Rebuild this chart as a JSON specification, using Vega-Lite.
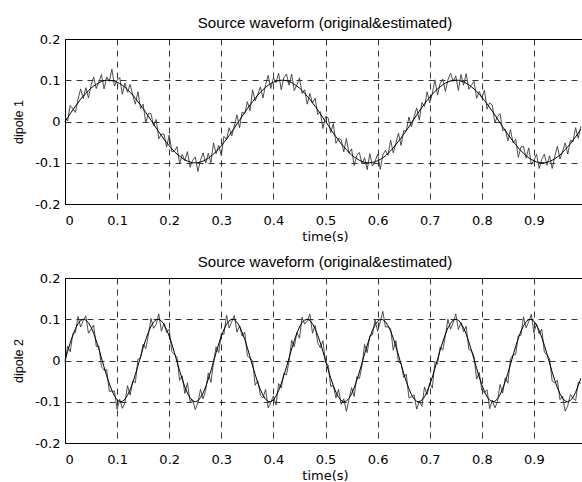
{
  "$schema": "https://vega.github.io/schema/vega-lite/v6.json",
  "padding": {"left": 12, "top": 15, "right": 0, "bottom": 0},
  "background": "white",
  "spacing": 74,
  "bounds": "flush",
  "data": {"values": [
    {"t":0,"s1":0,"e1":0.012,"s2":0,"e2":-0.007},
    {"t":0.005,"s1":0.009,"e1":0.001,"s2":0.022,"e2":0.035},
    {"t":0.01,"s1":0.019,"e1":0.039,"s2":0.043,"e2":0.021},
    {"t":0.015,"s1":0.028,"e1":0.031,"s2":0.061,"e2":0.065},
    {"t":0.02,"s1":0.037,"e1":0.022,"s2":0.077,"e2":0.068},
    {"t":0.025,"s1":0.045,"e1":0.054,"s2":0.089,"e2":0.107},
    {"t":0.03,"s1":0.054,"e1":0.079,"s2":0.097,"e2":0.081},
    {"t":0.035,"s1":0.061,"e1":0.056,"s2":0.1,"e2":0.097},
    {"t":0.04,"s1":0.068,"e1":0.082,"s2":0.098,"e2":0.108},
    {"t":0.045,"s1":0.075,"e1":0.057,"s2":0.092,"e2":0.066},
    {"t":0.05,"s1":0.081,"e1":0.087,"s2":0.081,"e2":0.076},
    {"t":0.055,"s1":0.086,"e1":0.108,"s2":0.066,"e2":0.086},
    {"t":0.06,"s1":0.09,"e1":0.08,"s2":0.048,"e2":0.034},
    {"t":0.065,"s1":0.094,"e1":0.096,"s2":0.028,"e2":0.035},
    {"t":0.07,"s1":0.097,"e1":0.114,"s2":0.006,"e2":-0.015},
    {"t":0.075,"s1":0.099,"e1":0.079,"s2":-0.016,"e2":-0.024},
    {"t":0.08,"s1":0.1,"e1":0.108,"s2":-0.037,"e2":-0.022},
    {"t":0.085,"s1":0.1,"e1":0.097,"s2":-0.056,"e2":-0.075},
    {"t":0.09,"s1":0.099,"e1":0.127,"s2":-0.073,"e2":-0.074},
    {"t":0.095,"s1":0.098,"e1":0.086,"s2":-0.086,"e2":-0.074},
    {"t":0.1,"s1":0.095,"e1":0.1,"s2":-0.095,"e2":-0.119},
    {"t":0.105,"s1":0.092,"e1":0.107,"s2":-0.1,"e2":-0.094},
    {"t":0.11,"s1":0.088,"e1":0.066,"s2":-0.099,"e2":-0.116},
    {"t":0.115,"s1":0.083,"e1":0.093,"s2":-0.094,"e2":-0.103},
    {"t":0.12,"s1":0.077,"e1":0.071,"s2":-0.084,"e2":-0.061},
    {"t":0.125,"s1":0.071,"e1":0.09,"s2":-0.071,"e2":-0.084},
    {"t":0.13,"s1":0.064,"e1":0.064,"s2":-0.054,"e2":-0.05},
    {"t":0.135,"s1":0.056,"e1":0.042,"s2":-0.034,"e2":-0.054},
    {"t":0.14,"s1":0.048,"e1":0.072,"s2":-0.013,"e2":0.003},
    {"t":0.145,"s1":0.04,"e1":0.031,"s2":0.009,"e2":0.006},
    {"t":0.15,"s1":0.031,"e1":0.042,"s2":0.031,"e2":0.04},
    {"t":0.155,"s1":0.022,"e1":-0.003,"s2":0.051,"e2":0.029},
    {"t":0.16,"s1":0.013,"e1":0.02,"s2":0.068,"e2":0.062},
    {"t":0.165,"s1":0.003,"e1":0.019,"s2":0.083,"e2":0.102},
    {"t":0.17,"s1":-0.006,"e1":-0.01,"s2":0.093,"e2":0.078},
    {"t":0.175,"s1":-0.016,"e1":0.005,"s2":0.099,"e2":0.088},
    {"t":0.18,"s1":-0.025,"e1":-0.042,"s2":0.1,"e2":0.113},
    {"t":0.185,"s1":-0.034,"e1":-0.031,"s2":0.096,"e2":0.071},
    {"t":0.19,"s1":-0.043,"e1":-0.03,"s2":0.088,"e2":0.09},
    {"t":0.195,"s1":-0.051,"e1":-0.062,"s2":0.075,"e2":0.068},
    {"t":0.2,"s1":-0.059,"e1":-0.033,"s2":0.059,"e2":0.076},
    {"t":0.205,"s1":-0.066,"e1":-0.073,"s2":0.04,"e2":0.022},
    {"t":0.21,"s1":-0.073,"e1":-0.072,"s2":0.019,"e2":0.015},
    {"t":0.215,"s1":-0.079,"e1":-0.061,"s2":-0.003,"e2":0.008},
    {"t":0.22,"s1":-0.084,"e1":-0.103,"s2":-0.025,"e2":-0.048},
    {"t":0.225,"s1":-0.089,"e1":-0.08,"s2":-0.045,"e2":-0.037},
    {"t":0.23,"s1":-0.093,"e1":-0.095,"s2":-0.064,"e2":-0.08},
    {"t":0.235,"s1":-0.096,"e1":-0.073,"s2":-0.079,"e2":-0.054},
    {"t":0.24,"s1":-0.098,"e1":-0.111,"s2":-0.09,"e2":-0.1},
    {"t":0.245,"s1":-0.1,"e1":-0.094,"s2":-0.098,"e2":-0.095},
    {"t":0.25,"s1":-0.1,"e1":-0.086,"s2":-0.1,"e2":-0.119},
    {"t":0.255,"s1":-0.1,"e1":-0.121,"s2":-0.098,"e2":-0.103},
    {"t":0.26,"s1":-0.098,"e1":-0.094,"s2":-0.09,"e2":-0.07},
    {"t":0.265,"s1":-0.096,"e1":-0.076,"s2":-0.079,"e2":-0.093},
    {"t":0.27,"s1":-0.093,"e1":-0.101,"s2":-0.064,"e2":-0.072},
    {"t":0.275,"s1":-0.089,"e1":-0.077,"s2":-0.045,"e2":-0.03},
    {"t":0.28,"s1":-0.084,"e1":-0.1,"s2":-0.025,"e2":-0.053},
    {"t":0.285,"s1":-0.079,"e1":-0.052,"s2":-0.003,"e2":-0.005},
    {"t":0.29,"s1":-0.073,"e1":-0.078,"s2":0.019,"e2":0.033},
    {"t":0.295,"s1":-0.066,"e1":-0.058,"s2":0.04,"e2":0.019},
    {"t":0.3,"s1":-0.059,"e1":-0.083,"s2":0.059,"e2":0.066},
    {"t":0.305,"s1":-0.051,"e1":-0.036,"s2":0.075,"e2":0.063},
    {"t":0.31,"s1":-0.043,"e1":-0.044,"s2":0.088,"e2":0.11},
    {"t":0.315,"s1":-0.034,"e1":-0.015,"s2":0.096,"e2":0.079},
    {"t":0.32,"s1":-0.025,"e1":-0.035,"s2":0.1,"e2":0.094},
    {"t":0.325,"s1":-0.016,"e1":-0.011,"s2":0.099,"e2":0.109},
    {"t":0.33,"s1":-0.006,"e1":0.016,"s2":0.093,"e2":0.069},
    {"t":0.335,"s1":0.003,"e1":-0.015,"s2":0.083,"e2":0.084},
    {"t":0.34,"s1":0.013,"e1":0.023,"s2":0.068,"e2":0.059},
    {"t":0.345,"s1":0.022,"e1":0.019,"s2":0.051,"e2":0.069},
    {"t":0.35,"s1":0.031,"e1":0.048,"s2":0.031,"e2":0.011},
    {"t":0.355,"s1":0.04,"e1":0.026,"s2":0.009,"e2":0.006},
    {"t":0.36,"s1":0.048,"e1":0.077,"s2":-0.013,"e2":-0.001},
    {"t":0.365,"s1":0.056,"e1":0.05,"s2":-0.034,"e2":-0.06},
    {"t":0.37,"s1":0.064,"e1":0.066,"s2":-0.054,"e2":-0.049},
    {"t":0.375,"s1":0.071,"e1":0.084,"s2":-0.071,"e2":-0.084},
    {"t":0.38,"s1":0.077,"e1":0.057,"s2":-0.084,"e2":-0.091},
    {"t":0.385,"s1":0.083,"e1":0.09,"s2":-0.094,"e2":-0.07},
    {"t":0.39,"s1":0.088,"e1":0.112,"s2":-0.099,"e2":-0.115},
    {"t":0.395,"s1":0.092,"e1":0.08,"s2":-0.1,"e2":-0.101},
    {"t":0.4,"s1":0.095,"e1":0.106,"s2":-0.095,"e2":-0.086},
    {"t":0.405,"s1":0.098,"e1":0.094,"s2":-0.086,"e2":-0.108},
    {"t":0.41,"s1":0.099,"e1":0.117,"s2":-0.073,"e2":-0.056},
    {"t":0.415,"s1":0.1,"e1":0.077,"s2":-0.056,"e2":-0.067},
    {"t":0.42,"s1":0.1,"e1":0.106,"s2":-0.037,"e2":-0.031},
    {"t":0.425,"s1":0.099,"e1":0.115,"s2":-0.016,"e2":-0.035},
    {"t":0.43,"s1":0.097,"e1":0.088,"s2":0.006,"e2":-0.002},
    {"t":0.435,"s1":0.094,"e1":0.115,"s2":0.028,"e2":0.049},
    {"t":0.44,"s1":0.09,"e1":0.075,"s2":0.048,"e2":0.033},
    {"t":0.445,"s1":0.086,"e1":0.089,"s2":0.066,"e2":0.068},
    {"t":0.45,"s1":0.081,"e1":0.106,"s2":0.081,"e2":0.054},
    {"t":0.455,"s1":0.075,"e1":0.068,"s2":0.092,"e2":0.105},
    {"t":0.46,"s1":0.068,"e1":0.077,"s2":0.098,"e2":0.088},
    {"t":0.465,"s1":0.061,"e1":0.042,"s2":0.1,"e2":0.096},
    {"t":0.47,"s1":0.054,"e1":0.068,"s2":0.097,"e2":0.113},
    {"t":0.475,"s1":0.045,"e1":0.045,"s2":0.089,"e2":0.066},
    {"t":0.48,"s1":0.037,"e1":0.057,"s2":0.077,"e2":0.085},
    {"t":0.485,"s1":0.028,"e1":0.017,"s2":0.061,"e2":0.043},
    {"t":0.49,"s1":0.019,"e1":0.024,"s2":0.043,"e2":0.031},
    {"t":0.495,"s1":0.009,"e1":-0.017,"s2":0.022,"e2":0.048},
    {"t":0.5,"s1":0,"e1":0.012,"s2":0,"e2":-0.005},
    {"t":0.505,"s1":-0.009,"e1":0.009,"s2":-0.022,"e2":-0.011},
    {"t":0.51,"s1":-0.019,"e1":-0.027,"s2":-0.043,"e2":-0.063},
    {"t":0.515,"s1":-0.028,"e1":-0.005,"s2":-0.061,"e2":-0.061},
    {"t":0.52,"s1":-0.037,"e1":-0.053,"s2":-0.077,"e2":-0.091},
    {"t":0.525,"s1":-0.045,"e1":-0.041,"s2":-0.089,"e2":-0.07},
    {"t":0.53,"s1":-0.054,"e1":-0.044,"s2":-0.097,"e2":-0.106},
    {"t":0.535,"s1":-0.061,"e1":-0.074,"s2":-0.1,"e2":-0.093},
    {"t":0.54,"s1":-0.068,"e1":-0.041,"s2":-0.098,"e2":-0.123},
    {"t":0.545,"s1":-0.075,"e1":-0.077,"s2":-0.092,"e2":-0.095},
    {"t":0.55,"s1":-0.081,"e1":-0.066,"s2":-0.081,"e2":-0.066},
    {"t":0.555,"s1":-0.086,"e1":-0.107,"s2":-0.066,"e2":-0.087},
    {"t":0.56,"s1":-0.09,"e1":-0.082,"s2":-0.048,"e2":-0.039},
    {"t":0.565,"s1":-0.094,"e1":-0.075,"s2":-0.028,"e2":-0.044},
    {"t":0.57,"s1":-0.097,"e1":-0.103,"s2":-0.006,"e2":-0.012},
    {"t":0.575,"s1":-0.099,"e1":-0.088,"s2":0.016,"e2":0.039},
    {"t":0.58,"s1":-0.1,"e1":-0.117,"s2":0.037,"e2":0.019},
    {"t":0.585,"s1":-0.1,"e1":-0.078,"s2":0.056,"e2":0.06},
    {"t":0.59,"s1":-0.099,"e1":-0.108,"s2":0.073,"e2":0.062},
    {"t":0.595,"s1":-0.098,"e1":-0.097,"s2":0.086,"e2":0.098},
    {"t":0.6,"s1":-0.095,"e1":-0.079,"s2":0.095,"e2":0.071},
    {"t":0.605,"s1":-0.092,"e1":-0.116,"s2":0.1,"e2":0.093},
    {"t":0.61,"s1":-0.088,"e1":-0.081,"s2":0.099,"e2":0.119},
    {"t":0.615,"s1":-0.083,"e1":-0.07,"s2":0.094,"e2":0.081},
    {"t":0.62,"s1":-0.077,"e1":-0.082,"s2":0.084,"e2":0.082},
    {"t":0.625,"s1":-0.071,"e1":-0.045,"s2":0.071,"e2":0.077},
    {"t":0.63,"s1":-0.064,"e1":-0.076,"s2":0.054,"e2":0.025},
    {"t":0.635,"s1":-0.056,"e1":-0.053,"s2":0.034,"e2":0.048},
    {"t":0.64,"s1":-0.048,"e1":-0.028,"s2":0.013,"e2":-0.004},
    {"t":0.645,"s1":-0.04,"e1":-0.058,"s2":-0.009,"e2":-0.006},
    {"t":0.65,"s1":-0.031,"e1":-0.022,"s2":-0.031,"e2":-0.041},
    {"t":0.655,"s1":-0.022,"e1":-0.023,"s2":-0.051,"e2":-0.033},
    {"t":0.66,"s1":-0.013,"e1":0.011,"s2":-0.068,"e2":-0.09},
    {"t":0.665,"s1":-0.003,"e1":-0.013,"s2":-0.083,"e2":-0.088},
    {"t":0.67,"s1":0.006,"e1":0.012,"s2":-0.093,"e2":-0.083},
    {"t":0.675,"s1":0.016,"e1":0.033,"s2":-0.099,"e2":-0.118},
    {"t":0.68,"s1":0.025,"e1":0.003,"s2":-0.1,"e2":-0.099},
    {"t":0.685,"s1":0.034,"e1":0.046,"s2":-0.096,"e2":-0.111},
    {"t":0.69,"s1":0.043,"e1":0.036,"s2":-0.088,"e2":-0.064},
    {"t":0.695,"s1":0.051,"e1":0.072,"s2":-0.075,"e2":-0.083},
    {"t":0.7,"s1":0.059,"e1":0.045,"s2":-0.059,"e2":-0.054},
    {"t":0.705,"s1":0.066,"e1":0.068,"s2":-0.04,"e2":-0.067},
    {"t":0.71,"s1":0.073,"e1":0.101,"s2":-0.019,"e2":-0.003},
    {"t":0.715,"s1":0.079,"e1":0.064,"s2":0.003,"e2":-0.009},
    {"t":0.72,"s1":0.084,"e1":0.092,"s2":0.025,"e2":0.033},
    {"t":0.725,"s1":0.089,"e1":0.103,"s2":0.045,"e2":0.025},
    {"t":0.73,"s1":0.093,"e1":0.073,"s2":0.064,"e2":0.06},
    {"t":0.735,"s1":0.096,"e1":0.101,"s2":0.079,"e2":0.1},
    {"t":0.74,"s1":0.098,"e1":0.117,"s2":0.09,"e2":0.076},
    {"t":0.745,"s1":0.1,"e1":0.097,"s2":0.098,"e2":0.092},
    {"t":0.75,"s1":0.1,"e1":0.11,"s2":0.1,"e2":0.113},
    {"t":0.755,"s1":0.1,"e1":0.075,"s2":0.098,"e2":0.075},
    {"t":0.76,"s1":0.098,"e1":0.114,"s2":0.09,"e2":0.092},
    {"t":0.765,"s1":0.096,"e1":0.088,"s2":0.079,"e2":0.07},
    {"t":0.77,"s1":0.093,"e1":0.116,"s2":0.064,"e2":0.083},
    {"t":0.775,"s1":0.089,"e1":0.078,"s2":0.045,"e2":0.027},
    {"t":0.78,"s1":0.084,"e1":0.088,"s2":0.025,"e2":0.024},
    {"t":0.785,"s1":0.079,"e1":0.097,"s2":0.003,"e2":0.01},
    {"t":0.79,"s1":0.073,"e1":0.056,"s2":-0.019,"e2":-0.045},
    {"t":0.795,"s1":0.066,"e1":0.073,"s2":-0.04,"e2":-0.029},
    {"t":0.8,"s1":0.059,"e1":0.057,"s2":-0.059,"e2":-0.072},
    {"t":0.805,"s1":0.051,"e1":0.076,"s2":-0.075,"e2":-0.078},
    {"t":0.81,"s1":0.043,"e1":0.03,"s2":-0.088,"e2":-0.071},
    {"t":0.815,"s1":0.034,"e1":0.045,"s2":-0.096,"e2":-0.117},
    {"t":0.82,"s1":0.025,"e1":0.04,"s2":-0.1,"e2":-0.096},
    {"t":0.825,"s1":0.016,"e1":-0.003,"s2":-0.099,"e2":-0.115},
    {"t":0.83,"s1":0.006,"e1":0.012,"s2":-0.093,"e2":-0.1},
    {"t":0.835,"s1":-0.003,"e1":0.019,"s2":-0.083,"e2":-0.058},
    {"t":0.84,"s1":-0.013,"e1":-0.022,"s2":-0.068,"e2":-0.079},
    {"t":0.845,"s1":-0.022,"e1":-0.019,"s2":-0.051,"e2":-0.042},
    {"t":0.85,"s1":-0.031,"e1":-0.047,"s2":-0.031,"e2":-0.055},
    {"t":0.855,"s1":-0.04,"e1":-0.02,"s2":-0.009,"e2":0.005},
    {"t":0.86,"s1":-0.048,"e1":-0.052,"s2":0.013,"e2":0.013},
    {"t":0.865,"s1":-0.056,"e1":-0.043,"s2":0.034,"e2":0.015},
    {"t":0.87,"s1":-0.064,"e1":-0.087,"s2":0.054,"e2":0.06},
    {"t":0.875,"s1":-0.071,"e1":-0.062,"s2":0.071,"e2":0.061},
    {"t":0.88,"s1":-0.077,"e1":-0.06,"s2":0.084,"e2":0.106},
    {"t":0.885,"s1":-0.083,"e1":-0.089,"s2":0.094,"e2":0.079},
    {"t":0.89,"s1":-0.088,"e1":-0.064,"s2":0.099,"e2":0.094},
    {"t":0.895,"s1":-0.092,"e1":-0.104,"s2":0.1,"e2":0.112},
    {"t":0.9,"s1":-0.095,"e1":-0.094,"s2":0.095,"e2":0.067},
    {"t":0.905,"s1":-0.098,"e1":-0.079,"s2":0.086,"e2":0.089},
    {"t":0.91,"s1":-0.099,"e1":-0.114,"s2":0.073,"e2":0.065},
    {"t":0.915,"s1":-0.1,"e1":-0.092,"s2":0.056,"e2":0.076},
    {"t":0.92,"s1":-0.1,"e1":-0.079,"s2":0.037,"e2":0.02},
    {"t":0.925,"s1":-0.099,"e1":-0.106,"s2":0.016,"e2":0.014},
    {"t":0.93,"s1":-0.097,"e1":-0.083,"s2":-0.006,"e2":0.004},
    {"t":0.935,"s1":-0.094,"e1":-0.114,"s2":-0.028,"e2":-0.05},
    {"t":0.94,"s1":-0.09,"e1":-0.085,"s2":-0.048,"e2":-0.054},
    {"t":0.945,"s1":-0.086,"e1":-0.06,"s2":-0.066,"e2":-0.048},
    {"t":0.95,"s1":-0.081,"e1":-0.091,"s2":-0.081,"e2":-0.095},
    {"t":0.955,"s1":-0.075,"e1":-0.072,"s2":-0.092,"e2":-0.087},
    {"t":0.96,"s1":-0.068,"e1":-0.052,"s2":-0.098,"e2":-0.123},
    {"t":0.965,"s1":-0.061,"e1":-0.079,"s2":-0.1,"e2":-0.109},
    {"t":0.97,"s1":-0.054,"e1":-0.045,"s2":-0.097,"e2":-0.082},
    {"t":0.975,"s1":-0.045,"e1":-0.049,"s2":-0.089,"e2":-0.092},
    {"t":0.98,"s1":-0.037,"e1":-0.015,"s2":-0.077,"e2":-0.097},
    {"t":0.985,"s1":-0.028,"e1":-0.041,"s2":-0.061,"e2":-0.053},
    {"t":0.99,"s1":-0.019,"e1":-0.012,"s2":-0.043,"e2":-0.055}
  ]},
  "vconcat": [
    {
      "width": 520,
      "height": 165,
      "title": {"text": "Source waveform (original&estimated)"},
      "encoding": {
        "x": {"field": "t", "type": "quantitative", "title": "time(s)",
              "scale": {"domain": [0, 0.998], "nice": false, "zero": false},
              "axis": {"values": [0, 0.1, 0.2, 0.3, 0.4, 0.5, 0.6, 0.7, 0.8, 0.9],
                       "labelExpr": "datum.value == 0 ? '0' : format(datum.value, '.1f')"}}
      },
      "layer": [
        {"mark": {"type": "line", "color": "#3a3a3a", "strokeWidth": 0.9},
         "encoding": {"y": {"field": "e1", "type": "quantitative", "title": "dipole 1",
                            "scale": {"domain": [-0.2, 0.2], "nice": false},
                            "axis": {"values": [-0.2, -0.1, 0, 0.1, 0.2],
                                     "labelExpr": "datum.value == 0 ? '0' : (datum.value < 0 ? '-' : '') + format(abs(datum.value), '.1f')"}}}},
        {"mark": {"type": "line", "color": "black", "strokeWidth": 1},
         "encoding": {"y": {"field": "s1", "type": "quantitative"}}}
      ]
    },
    {
      "width": 520,
      "height": 165,
      "title": {"text": "Source waveform  (original&estimated)"},
      "encoding": {
        "x": {"field": "t", "type": "quantitative", "title": "time(s)",
              "scale": {"domain": [0, 0.998], "nice": false, "zero": false},
              "axis": {"values": [0, 0.1, 0.2, 0.3, 0.4, 0.5, 0.6, 0.7, 0.8, 0.9],
                       "labelExpr": "datum.value == 0 ? '0' : format(datum.value, '.1f')"}}
      },
      "layer": [
        {"mark": {"type": "line", "color": "#3a3a3a", "strokeWidth": 0.9},
         "encoding": {"y": {"field": "e2", "type": "quantitative", "title": "dipole 2",
                            "scale": {"domain": [-0.2, 0.2], "nice": false},
                            "axis": {"values": [-0.2, -0.1, 0, 0.1, 0.2],
                                     "labelExpr": "datum.value == 0 ? '0' : (datum.value < 0 ? '-' : '') + format(abs(datum.value), '.1f')"}}}},
        {"mark": {"type": "line", "color": "black", "strokeWidth": 1},
         "encoding": {"y": {"field": "s2", "type": "quantitative"}}}
      ]
    }
  ],
  "config": {
    "font": "Liberation Sans",
    "view": {"stroke": "black", "strokeWidth": 1},
    "title": {"font": "Liberation Sans", "fontSize": 15, "fontWeight": "normal", "color": "black", "offset": 2},
    "axis": {
      "labelFont": "DejaVu Sans", "labelFontSize": 13, "labelColor": "black",
      "titleFont": "DejaVu Sans", "titleFontSize": 13, "titleFontWeight": "normal", "titleColor": "black",
      "domainColor": "black", "domainWidth": 1,
      "ticks": false,
      "grid": true, "gridColor": "black", "gridDash": [6, 5], "gridOpacity": 1, "gridWidth": 0.8
    },
    "axisX": {"labelPadding": 10, "titlePadding": 3},
    "axisY": {"labelPadding": 5, "titlePadding": 9, "titleFont": "Liberation Sans", "titleFontSize": 12.5}
  }
}
